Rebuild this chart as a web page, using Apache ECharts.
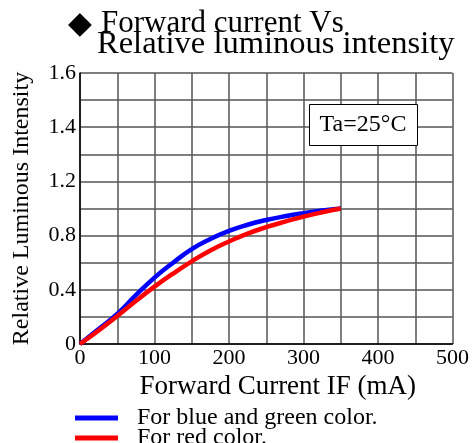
<!DOCTYPE html>
<html>
<head>
<meta charset="utf-8">
<script src="https://cdn.jsdelivr.net/npm/echarts@6/dist/echarts.min.js"></script>
<style>html,body{margin:0;padding:0;background:#fff;}#c{width:472px;height:443px;}</style>
</head>
<body>
<div id="c"></div>
<script>
// Forward current (mA)
var current = [0, 25, 50, 75, 100, 125, 150, 175, 200, 225, 250, 275, 300, 325, 350];
// Relative luminous intensity
var blueGreen = [0, 0.11, 0.222, 0.36, 0.49, 0.60, 0.70, 0.775, 0.835, 0.88, 0.915, 0.943, 0.966, 0.985, 1.0];
var redColor = [0, 0.10, 0.207, 0.318, 0.423, 0.52, 0.61, 0.69, 0.757, 0.815, 0.862, 0.903, 0.94, 0.972, 1.0];
// X tick labels (every 100 mA) and Y tick labels as printed (at every 0.4 of the linear scale)
var xTickLabels = ['0', '100', '200', '300', '400', '500'];
var yTickLabels = ['0', '0.4', '0.8', '1.2', '1.4', '1.6'];
var seriesNames = ['For blue and green color.', 'For red color.'];

var serif = 'Liberation Serif, Times New Roman, serif';
function pairs(ys) { return current.map(function (x, i) { return [x, ys[i]]; }); }
function legendFor(name, top) {
  return {
    orient: 'vertical', left: 75, top: top, padding: 0, itemGap: 0,
    icon: 'rect', itemWidth: 43, itemHeight: 5,
    textStyle: { fontFamily: serif, fontSize: 24, color: '#000', lineHeight: 20, padding: [0, 0, 0, 14] },
    data: [name]
  };
}

var chart = echarts.init(document.getElementById('c'));
chart.setOption({
  animation: false,
  backgroundColor: '#fff',
  grid: { left: 80, right: 19, top: 73, bottom: 99, containLabel: false },
  xAxis: {
    type: 'value', min: 0, max: 500, interval: 50,
    name: 'Forward Current IF (mA)', nameLocation: 'middle', nameGap: 28,
    nameTextStyle: { fontFamily: serif, fontSize: 27, color: '#000', padding: [0, 0, 0, 23] },
    axisLine: { show: true, lineStyle: { color: '#000', width: 1.5 } },
    axisTick: { show: false },
    splitLine: { show: true, lineStyle: { color: '#555', width: 1.5 } },
    axisLabel: {
      fontFamily: serif, fontSize: 22, color: '#000', margin: 3,
      formatter: function (v) {
        var k = v / 100;
        return Math.abs(k - Math.round(k)) < 1e-6 ? xTickLabels[Math.round(k)] : '';
      }
    }
  },
  yAxis: {
    type: 'value', min: 0, max: 2.0, interval: 0.2,
    name: 'Relative Luminous Intensity', nameLocation: 'middle', nameGap: 46,
    nameTextStyle: { fontFamily: serif, fontSize: 24, color: '#000' },
    axisLine: { show: true, lineStyle: { color: '#000', width: 1.5 } },
    axisTick: { show: false },
    splitLine: { show: true, lineStyle: { color: '#555', width: 1.5 } },
    axisLabel: {
      fontFamily: serif, fontSize: 22, color: '#000', margin: 4,
      formatter: function (v) {
        var k = v / 0.4;
        return Math.abs(k - Math.round(k)) < 1e-6 ? yTickLabels[Math.round(k)] : '';
      }
    }
  },
  legend: [legendFor(seriesNames[0], 406), legendFor(seriesNames[1], 426)],
  series: [
    { name: seriesNames[0], type: 'line', data: pairs(blueGreen), smooth: 0.5, showSymbol: false,
      color: '#0000ff', lineStyle: { color: '#0000ff', width: 4.5 } },
    { name: seriesNames[1], type: 'line', data: pairs(redColor), smooth: 0.5, showSymbol: false,
      color: '#ff0000', lineStyle: { color: '#ff0000', width: 4.5 } }
  ],
  graphic: [
    { type: 'text', left: 68, top: 9, style: { text: '\u25C6', fontFamily: 'DejaVu Sans', fontSize: 31, fill: '#000' } },
    { type: 'text', left: 101, top: 8, style: { text: 'Forward current Vs', fontFamily: serif, fontSize: 31, fill: '#000' } },
    { type: 'text', left: 97, top: 28, style: { text: 'Relative luminous intensity', fontFamily: serif, fontSize: 32.5, fill: '#000' } },
    { type: 'rect', shape: { x: 309.5, y: 104.5, width: 108, height: 41 }, style: { fill: '#fff', stroke: '#000', lineWidth: 1 }, z: 10 },
    { type: 'text', x: 363, y: 125, z: 11, style: { text: 'Ta=25\u00B0C', fontFamily: serif, fontSize: 24, fill: '#000', align: 'center', verticalAlign: 'middle' } }
  ]
});
</script>
</body>
</html>
